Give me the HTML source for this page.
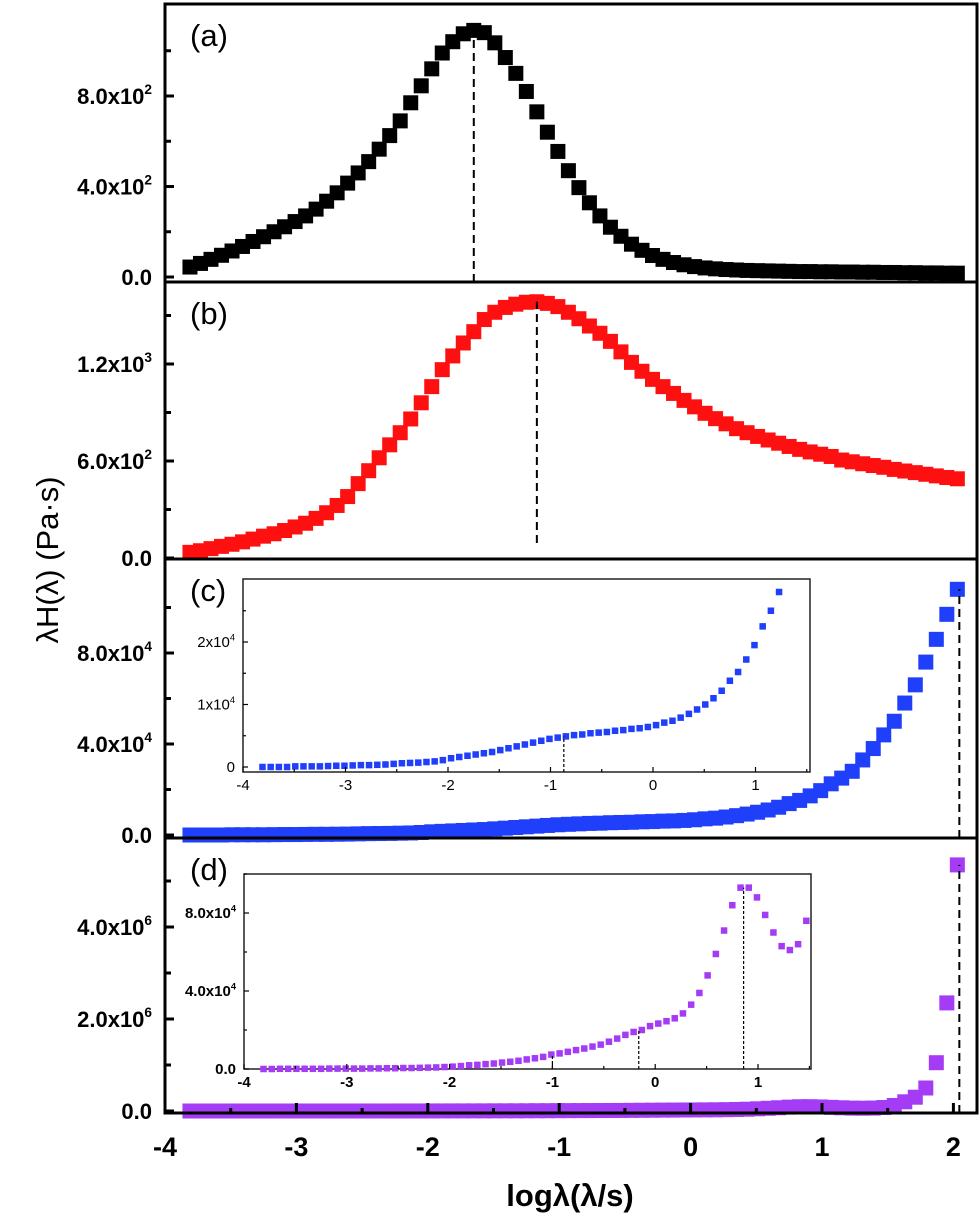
<!DOCTYPE html>
<html><head><meta charset="utf-8"><style>
html,body{margin:0;padding:0;background:#fff}
svg{display:block}
text{font-family:"Liberation Sans",Arial,sans-serif}
</style></head><body>
<svg id="chart" width="980" height="1228" viewBox="0 0 980 1228" xmlns="http://www.w3.org/2000/svg">
<text transform="translate(58,560) rotate(-90)" text-anchor="middle" font-size="31">λH(λ) (Pa·s)</text>
<text x="570" y="1206" text-anchor="middle" font-size="31" font-weight="bold">logλ(λ/s)</text>
</svg>
<script>
const logX = [-3.81,-3.73,-3.65,-3.57,-3.49,-3.41,-3.33,-3.25,-3.17,-3.09,-3.01,-2.93,-2.85,-2.77,-2.69,-2.61,-2.53,-2.45,-2.37,-2.29,-2.21,-2.13,-2.05,-1.97,-1.89,-1.81,-1.73,-1.65,-1.57,-1.49,-1.41,-1.33,-1.25,-1.17,-1.09,-1.01,-0.93,-0.85,-0.77,-0.69,-0.61,-0.53,-0.45,-0.37,-0.29,-0.21,-0.13,-0.05,0.03,0.11,0.19,0.27,0.35,0.43,0.51,0.59,0.67,0.75,0.83,0.91,0.99,1.07,1.15,1.23,1.31,1.39,1.47,1.55,1.63,1.71,1.79,1.87,1.95,2.03];
const seriesA = [44,60,78,96,115,135,157,178,200,222,245,270,300,335,372,415,460,510,565,625,690,770,845,920,990,1040,1075,1090,1080,1035,970,900,820,730,640,555,470,395,328,270,220,180,145,118,95,78,64,54,46,40,36,33,31,29,28,27,26,25,24,24,23,23,22,22,21,21,20,20,19,19,18,18,17,17];
const seriesB = [35,45,58,72,85,100,117,135,150,170,192,215,245,280,325,380,460,540,620,700,775,860,960,1060,1165,1250,1330,1400,1475,1520,1550,1570,1582,1585,1575,1555,1520,1480,1435,1390,1340,1275,1210,1155,1105,1060,1018,975,935,895,862,830,800,775,752,730,710,690,672,656,642,628,606,595,583,572,561,548,538,528,518,508,498,490];
// panel c, units of 1e4
const seriesC = [0,0,0,0,0.01,0.01,0.01,0.01,0.015,0.02,0.02,0.025,0.03,0.03,0.035,0.04,0.05,0.06,0.065,0.07,0.08,0.09,0.11,0.14,0.16,0.18,0.2,0.22,0.24,0.27,0.3,0.33,0.36,0.39,0.42,0.45,0.47,0.49,0.51,0.52,0.54,0.55,0.56,0.58,0.59,0.61,0.62,0.64,0.67,0.71,0.74,0.79,0.85,0.92,1.0,1.1,1.22,1.38,1.52,1.72,1.95,2.25,2.5,2.8,3.3,3.8,4.4,5.0,5.8,6.6,7.6,8.6,9.7,10.8];
// panel d, units of 1e4
const seriesD = [0,0,0.01,0.01,0.01,0.01,0.01,0.01,0.02,0.02,0.02,0.02,0.02,0.03,0.03,0.04,0.04,0.05,0.05,0.06,0.07,0.08,0.1,0.12,0.15,0.19,0.21,0.25,0.28,0.33,0.37,0.42,0.49,0.55,0.62,0.74,0.8,0.88,0.97,1.05,1.15,1.25,1.4,1.56,1.75,1.9,2.0,2.2,2.33,2.45,2.6,2.85,3.3,3.9,4.8,5.9,7.1,8.4,9.3,9.3,8.8,7.9,7.0,6.3,6.1,6.4,7.6,12,20,30,50,105,235,535];
const xTicks = [-4,-3,-2,-1,0,1,2];
const ticksA = ["0.0","4.0x10|2","8.0x10|2"], ticksAv=[0,400,800];
const ticksB = ["0.0","6.0x10|2","1.2x10|3"], ticksBv=[0,600,1200];
const ticksC = ["0.0","4.0x10|4","8.0x10|4"], ticksCv=[0,4,8];
const ticksD = ["0.0","2.0x10|6","4.0x10|6"], ticksDv=[0,200,400];
const insetCTicks = ["0","1x10|4","2x10|4"], insetCTv=[0,1,2];
const insetDTicks = ["0.0","4.0x10|4","8.0x10|4"], insetDTv=[0,4,8];
const peakA=-1.65, peakB=-1.17, peakC=2.03, peakD=2.03, insetCLine=-0.87, insetDLines=[-1.0,-0.16,0.86];

const svg=document.getElementById('chart');
const NS='http://www.w3.org/2000/svg';
function mk(tag,attrs,parent){const e=document.createElementNS(NS,tag);for(const k in attrs)e.setAttribute(k,attrs[k]);(parent||svg).appendChild(e);return e;}
const L=165,R=977;
const xS=v=>L+(v+4)*131.4;
const panels=[
 {id:'a',top:4,bot:282,y0:277,ppu:90.5/400,data:seriesA,color:'#000',ticks:ticksA,tv:ticksAv,minor:200,peak:peakA,ms:15},
 {id:'b',top:282,bot:559,y0:558,ppu:97/600,data:seriesB,color:'#ff1010',ticks:ticksB,tv:ticksBv,minor:300,peak:peakB,ms:15},
 {id:'c',top:559,bot:838,y0:835,ppu:91/4,data:seriesC,color:'#1f3ffa',ticks:ticksC,tv:ticksCv,minor:2,peak:peakC,ms:15},
 {id:'d',top:838,bot:1113,y0:1111,ppu:92/200,data:seriesD,color:'#a43cf6',ticks:ticksD,tv:ticksDv,minor:100,peak:peakD,ms:15}
];
function label(g,x,y,str,size,bold,anchor,name){
 const p=str.split('|');
 const t=mk('text',{x:x,y:y,'font-size':size,'text-anchor':anchor,'font-weight':bold?'bold':'normal'},g);
 
 
 t.appendChild(document.createTextNode(p[0]));
 if(p[1]){const s=mk('tspan',{dy:-size*0.45,'font-size':size*0.62},t);s.textContent=p[1];}
}
panels.forEach(P=>{
 const g=mk('g',{});
 
 
 const yS=v=>P.y0-v*P.ppu;
 P.data.forEach((v,i)=>{
  const y=Math.max(yS(v),P.top+2);
  const r=mk('rect',{x:xS(logX[i])-P.ms/2,y:y-P.ms/2,width:P.ms,height:P.ms,fill:P.color},g);
  
  
 });
 const pi=logX.reduce((b,v,i)=>Math.abs(v-P.peak)<Math.abs(logX[b]-P.peak)?i:b,0);
 const dl=mk('line',{x1:xS(P.peak)+(P.id==='c'||P.id==='d'?2:0),x2:xS(P.peak)+(P.id==='c'||P.id==='d'?2:0),y1:P.id==='b'?543:P.bot,y2:Math.max(yS(P.data[pi]),P.top+8),stroke:'#000','stroke-width':2,'stroke-dasharray':'8,5'},g);
 
 
 P.tv.forEach((v,i)=>{
  mk('line',{x1:L,x2:L+9,y1:yS(v),y2:yS(v),stroke:'#000','stroke-width':3},g);
  label(g,152,yS(v)+8,P.ticks[i],22,true,'end','y-tick-label-'+P.id);
  const ym=yS(v+P.minor);
  if(ym>P.top+3) mk('line',{x1:L,x2:L+6,y1:ym,y2:ym,stroke:'#000','stroke-width':3},g);
 });
 const lb=mk('text',{x:190,y:P.top+42,'font-size':31},g);
 
 
 lb.textContent='('+P.id+')';
});
panels.forEach(P=>{
 const f=mk('rect',{x:L,y:P.top,width:R-L,height:P.bot-P.top,fill:'none',stroke:'#000','stroke-width':3});
 
 
});
xTicks.forEach(v=>{
 mk('line',{x1:xS(v),x2:xS(v),y1:1113,y2:1103,stroke:'#000','stroke-width':3});
 if(v<2) mk('line',{x1:xS(v+0.5),x2:xS(v+0.5),y1:1113,y2:1108,stroke:'#000','stroke-width':3});
 label(svg,xS(v),1156,String(v),27,true,'middle','x-tick-label');
});
function inset(cfg){
 const g=mk('g',{});
 
 
 mk('rect',{x:cfg.l,y:cfg.t,width:cfg.r-cfg.l,height:cfg.b-cfg.t,fill:'#fff',stroke:'#222','stroke-width':1.5},g);
 const ix=v=>cfg.l+(v+4)*cfg.xp;
 const iy=v=>cfg.y0-v*cfg.yp;
 cfg.data.forEach((v,i)=>{
  if(logX[i]>cfg.xmax) return;
  const r=mk('rect',{x:ix(logX[i])-3.25,y:iy(v)-3.25,width:6.5,height:6.5,fill:cfg.color},g);
  
  
 });
 cfg.lines.forEach(lv=>{
  let bi=0;logX.forEach((v,i)=>{if(Math.abs(v-lv)<Math.abs(logX[bi]-lv))bi=i;});
  const l=mk('line',{x1:ix(lv),x2:ix(lv),y1:cfg.b,y2:iy(cfg.data[bi]),stroke:'#000','stroke-width':1.2,'stroke-dasharray':'3,2'},g);
  
  
 });
 for(let v=-4;v<=1;v++){
  mk('line',{x1:ix(v),x2:ix(v),y1:cfg.b,y2:cfg.b-5,stroke:'#000','stroke-width':1.2},g);
  mk('line',{x1:ix(v+0.5),x2:ix(v+0.5),y1:cfg.b,y2:cfg.b-3,stroke:'#000','stroke-width':1.2},g);
  label(g,ix(v),cfg.b+18,String(v),15,cfg.bold,'middle','inset-x-tick-label');
 }
 cfg.tv.forEach((v,i)=>{
  mk('line',{x1:cfg.l,x2:cfg.l+5,y1:iy(v),y2:iy(v),stroke:'#000','stroke-width':1.2},g);
  mk('line',{x1:cfg.l,x2:cfg.l+3,y1:iy(v+cfg.minor),y2:iy(v+cfg.minor),stroke:'#000','stroke-width':1.2},g);
  label(g,cfg.l-8,iy(v)+5,cfg.ticks[i],15,cfg.bold,'end','inset-y-tick-label');
 });
}
inset({name:'inset-c',l:243,t:579,r:810,b:772,xp:102.5,y0:767,yp:62.5,data:seriesC,xmax:1.25,color:'#1f3ffa',lines:[insetCLine],tv:insetCTv,ticks:insetCTicks,minor:0.5,bold:false});
inset({name:'inset-d',l:244,t:874,r:811,b:1069,xp:102.8,y0:1069,yp:19.5,data:seriesD,xmax:1.5,color:'#a43cf6',lines:insetDLines,tv:insetDTv,ticks:insetDTicks,minor:2,bold:true});
</script>
</body></html>
